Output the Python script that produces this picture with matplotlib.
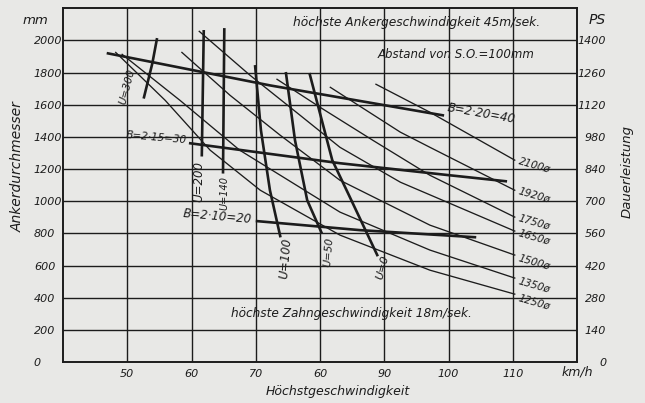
import matplotlib
matplotlib.use("Agg")
import matplotlib.pyplot as plt

# ---- data (km/h, mm) ----
x_ticks = [50, 60, 70, 80, 90, 100, 110]
x_tick_labels = ["50", "60", "70", "60", "90", "100", "110"]
y_ticks = [0, 200, 400, 600, 800, 1000, 1200, 1400, 1600, 1800, 2000]
ps_labels = ["0", "140", "280", "420", "560", "700", "840", "980", "1120", "1260", "1400"]

# thin curves: armature diameter
d_names = ["2100ø", "1920ø", "1750ø", "1650ø", "1500ø", "1350ø", "1250ø"]
d_x = [
    [88.7, 97.1, 110.3],
    [81.6, 92.5, 97.1, 110.3],
    [73.3, 80.0, 88.2, 97.1, 110.3],
    [61.2, 69.1, 76.9, 83.1, 92.5, 110.3],
    [58.5, 66.0, 73.8, 83.1, 97.1, 110.3],
    [49.2, 58.2, 67.5, 83.1, 97.1, 110.3],
    [48.2, 55.9, 62.9, 70.7, 83.1, 97.1, 110.3],
]
d_y = [
    [1727, 1553, 1255],
    [1708, 1429, 1335, 1068],
    [1758, 1584, 1379, 1161, 901],
    [2056, 1783, 1534, 1335, 1118, 814],
    [1925, 1658, 1410, 1130, 851, 665],
    [1913, 1627, 1317, 932, 696, 522],
    [1925, 1627, 1317, 1068, 789, 571, 422],
]
d_label_y = [1224, 1037, 870, 776, 621, 478, 373]

# thick curves: B lines
b_names = ["B=2·20=40", "B=2·15=30", "B=2·10=20"]
b_x = [
    [47.0, 72.2, 99.1],
    [59.8, 83.1, 100.2, 108.9],
    [70.2, 86.2, 104.1],
]
b_y = [
    [1919, 1720, 1534],
    [1360, 1236, 1161, 1124],
    [876, 820, 776],
]

# thick steep curves: U lines
u_names = ["U=300", "U=200", "U=140", "U=100", "U=50", "U=0"]
u_x = [
    [54.6, 53.9, 52.6],
    [61.9, 61.6],
    [65.1, 64.9],
    [69.9, 70.8, 72.2, 73.8],
    [74.7, 76.1, 78.0, 80.2],
    [78.4, 81.9, 84.5, 88.9],
]
u_y = [
    [2006, 1857, 1646],
    [2056, 1286],
    [2068, 1180],
    [1838, 1441, 1068, 783],
    [1795, 1379, 1006, 807],
    [1789, 1255, 1037, 665],
]

paper = "#e8e8e6"
ink = "#1c1c1c"
font = dict(family="DejaVu Sans", style="italic", color=ink)

fig = plt.figure(figsize=(6.45, 4.03), dpi=100, facecolor=paper)
ax = fig.add_axes([0.0977, 0.1017, 0.797, 0.878], facecolor=paper)
ax.set_xlim(40, 120)
ax.set_ylim(0, 2200)

# grid
for x in x_ticks:
    ax.axvline(x, color=ink, lw=1.0, zorder=1)
for y in y_ticks[1:]:
    ax.axhline(y, color=ink, lw=1.0, zorder=1)
for s in ax.spines.values():
    s.set_color(ink)
    s.set_linewidth(1.4)
ax.tick_params(length=0)
ax.set_xticks(x_ticks)
ax.set_xticklabels(x_tick_labels, fontsize=8, **font)
ax.tick_params(axis="x", pad=5)
ax.set_yticks(y_ticks)
ax.set_yticklabels([str(v) for v in y_ticks], fontsize=8, ha="left", **font)
ax.tick_params(axis="y", pad=21)

ax2 = ax.twinx()
ax2.set_ylim(0, 2200)
ax2.set_yticks(y_ticks)
ax2.set_yticklabels(ps_labels, fontsize=8, ha="right", **font)
ax2.tick_params(length=0, pad=21)
for s in ax2.spines.values():
    s.set_visible(False)

# diameter curves
for xs, ys, name, ly in zip(d_x, d_y, d_names, d_label_y):
    ax.plot(xs, ys, color=ink, lw=0.95, zorder=3)
    ax.text(110.7, ly, name, fontsize=7.5, rotation=-16, ha="left", va="center", **font)

# B lines
for xs, ys in zip(b_x, b_y):
    ax.plot(xs, ys, color=ink, lw=1.9, zorder=4)
ax.text(99.6, 1547, b_names[0], fontsize=8.5, rotation=-10, ha="left", va="center", **font)
ax.text(59.4, 1395, b_names[1], fontsize=7.5, rotation=-5, ha="right", va="center", **font)
ax.text(69.4, 905, b_names[2], fontsize=8.5, rotation=-5, ha="right", va="center", **font)

# U lines
for xs, ys in zip(u_x, u_y):
    ax.plot(xs, ys, color=ink, lw=1.9, zorder=4)
u_lab = [(50.0, 1714, 75, 7.5), (61.2, 1124, 90, 8.5), (65.1, 1050, 90, 7),
         (74.6, 646, 85, 8.5), (81.4, 683, 85, 7.5), (89.8, 590, 75, 8)]
for name, (lx, ly, rot, fs) in zip(u_names, u_lab):
    ax.text(lx, ly, name, fontsize=fs, rotation=rot, ha="center", va="center", **font)

# notes inside the plot
ax.text(0.687, 0.960, "höchste Ankergeschwindigkeit 45m/sek.", transform=ax.transAxes,
        fontsize=8.8, ha="center", va="center", **font)
ax.text(0.765, 0.870, "Abstand von S.O.=100mm", transform=ax.transAxes,
        fontsize=8.5, ha="center", va="center", **font)
ax.text(0.562, 0.138, "höchste Zahngeschwindigkeit 18m/sek.", transform=ax.transAxes,
        fontsize=8.7, ha="center", va="center", **font)

# axis captions
fig.text(35 / 645, 1 - 20 / 403, "mm", fontsize=9.5, ha="center", va="center", **font)
fig.text(597 / 645, 1 - 20 / 403, "PS", fontsize=10, ha="center", va="center", **font)
fig.text(577 / 645, 1 - 372 / 403, "km/h", fontsize=9, ha="center", va="center", **font)
fig.text(338 / 645, 1 - 392 / 403, "Höchstgeschwindigkeit", fontsize=9, ha="center", va="center", **font)
fig.text(18 / 645, 1 - 167 / 403, "Ankerdurchmesser", fontsize=10, rotation=90, ha="center", va="center", **font)
fig.text(627 / 645, 1 - 171 / 403, "Dauerleistung", fontsize=9.5, rotation=90, ha="center", va="center", **font)

fig.savefig("out.png", dpi=100, facecolor=paper)
